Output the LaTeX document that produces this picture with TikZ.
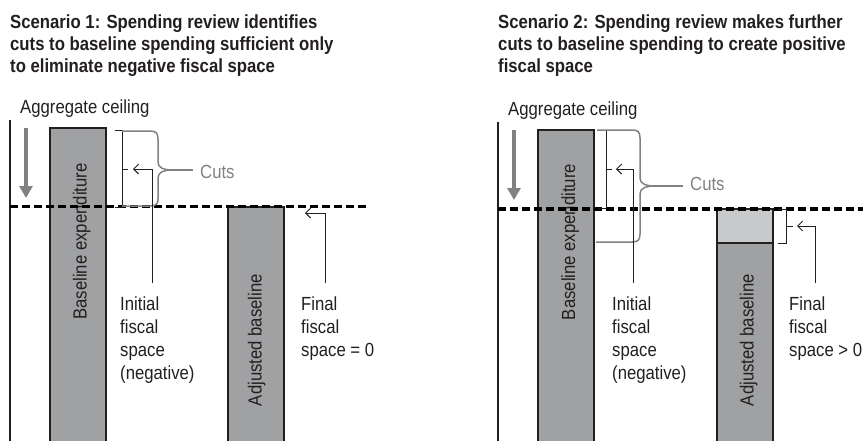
\documentclass[tikz,border=0pt]{standalone}
\usepackage{fontspec}
\setmainfont{Liberation Sans}[FakeStretch=0.88]
\usetikzlibrary{arrows.meta}
\definecolor{inkcolor}{RGB}{35,31,32}
\definecolor{barcolor}{RGB}{160,161,163}
\definecolor{lightbar}{RGB}{200,201,203}
\definecolor{cutgray}{RGB}{128,129,131}

\begin{document}
\begin{tikzpicture}[
    x=1pt, y=-1pt,
    title/.style={font=\fontsize{19}{21.7}\selectfont\bfseries, align=left, anchor=north west, inner sep=0pt, text=inkcolor},
    note/.style={font=\fontsize{19}{23}\selectfont, align=left, anchor=north west, inner sep=0pt, text=inkcolor},
    ceiling/.style={font=\fontsize{19}{23}\selectfont, anchor=base west, inner sep=0pt, text=inkcolor},
    barlabel/.style={font=\fontsize{19}{23}\selectfont, rotate=90, anchor=base, inner sep=0pt, text=inkcolor},
    cutlabel/.style={font=\fontsize{19}{23}\selectfont, anchor=west, inner xsep=7pt, inner ysep=0pt, text=cutgray},
    bar/.style={draw=inkcolor, fill=barcolor, line width=1.2pt},
    topup/.style={bar, fill=lightbar},
    axis/.style={draw=inkcolor, line width=1.3pt},
    ceilarrow/.style={draw=cutgray, line width=3.5pt, -{Triangle[length=12pt,width=13pt]}},
    ceilline/.style={draw=black, line width=3.2pt, dash pattern=on 7.5pt off 4.5pt},
    bracket/.style={draw=inkcolor, line width=1pt},
    pointer/.style={draw=inkcolor, line width=1pt, -{Straight Barb[length=5pt,width=10pt]}},
    brace/.style={draw=cutgray, line width=1.5pt}
]
\useasboundingbox (0,0) rectangle (863,440);
\clip (0,0) rectangle (863,440);

% Scenario 1
\node[title] (title1) at (10,15) {Scenario 1: Spending review identifies\\cuts to baseline spending sufficient only\\to eliminate negative fiscal space};
\node[ceiling] (agg1) at (20,113) {Aggregate ceiling};
\draw[axis] (10,120) -- (10,445);
\draw[ceilarrow] (26,128) -- (26,198);

\draw[bar] (50,128) rectangle (106,450);
\draw[bar] (228,207) rectangle (284,450);
\node[barlabel] (base1) at (86.5,241.5) {Baseline expenditure};
\node[barlabel] (adj1) at (261.5,340) {Adjusted baseline};

\draw[ceilline] (10,206.5) -- (370,206.5);

\draw[bracket] (115,130) -- (122,130) -- (122,207) -- (115,207) (122,169) -- (128,169);
\coordinate (tick1) at (133,169);
\coordinate (tip1) at (172,170);
\draw[brace] (122,131) -- (150,131) .. controls (156,131) and (158,133) .. (158,139) -- (158,162)
    .. controls (158,168) and (164,170) .. (tip1)
    .. controls (164,170) and (158,172) .. (158,178) -- (158,199)
    .. controls (158,204) and (156,206) .. (150,206) -- (122,206);
\node[cutlabel] (cuts1) at (193,172) {Cuts};
\draw[brace] (tip1) -- (tip1 -| cuts1.west);

\node[note] (init1) at (120,297) {Initial\\fiscal\\space\\(negative)};
\node[note] (final1) at (301,297) {Final\\fiscal\\space = 0};
\coordinate (from1) at (152,283);
\coordinate (from2) at (325,283);
\coordinate (tick2) at (305,213);
\draw[pointer] (from1) |- (tick1);
\draw[pointer] (from2) |- (tick2);

% Scenario 2
\node[title] (title2) at (498,15) {Scenario 2: Spending review makes further\\cuts to baseline spending to create positive\\fiscal space};
\node[ceiling] (agg2) at (508,115) {Aggregate ceiling};
\draw[axis] (498,122) -- (498,445);
\draw[ceilarrow] (514,130) -- (514,200);

\draw[bar] (538,130) rectangle (594,450);
\draw[topup] (717,209) rectangle (773,243);
\draw[bar] (717,243) rectangle (773,450);
\node[barlabel] (base2) at (575,242) {Baseline expenditure};
\node[barlabel] (adj2) at (753.5,340) {Adjusted baseline};

\draw[ceilline] (498,209) -- (866,209);

\draw[bracket] (597,130) -- (606,130) -- (606,208.5) -- (598,208.5) (606,169) -- (612,169);
\draw[bracket] (778,209) -- (786,209) -- (786,243) -- (778,243) (786,226) -- (793,226);
\coordinate (tick3) at (616,169);
\coordinate (tick4) at (797,226);
\coordinate (tip2) at (655,186);
\draw[brace] (597,130) -- (632,130) .. controls (638,130) and (640,132) .. (640,138) -- (640,178)
    .. controls (640,184) and (646,186) .. (tip2)
    .. controls (646,186) and (640,188) .. (640,194) -- (640,234)
    .. controls (640,240) and (638,242) .. (632,242) -- (596,242);
\node[cutlabel] (cuts2) at (683,184) {Cuts};
\draw[brace] (tip2) -- (tip2 -| cuts2.west);

\node[note] (init2) at (612,297) {Initial\\fiscal\\space\\(negative)};
\node[note] (final2) at (789,297) {Final\\fiscal\\space > 0};
\coordinate (from3) at (633,283);
\coordinate (from4) at (815,283);
\draw[pointer] (from3) |- (tick3);
\draw[pointer] (from4) |- (tick4);

\end{tikzpicture}
\end{document}
